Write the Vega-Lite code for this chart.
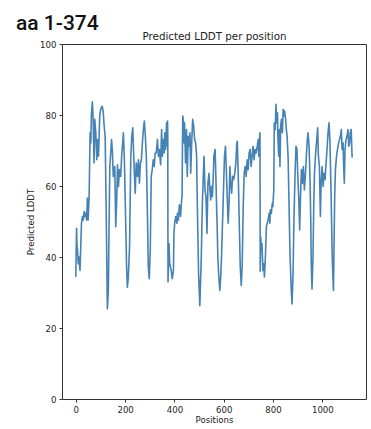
{
  "$schema": "https://vega.github.io/schema/vega-lite/v6.json",
  "width": 304,
  "height": 355,
  "autosize": {"type": "none"},
  "padding": {"left": 62, "top": 44, "right": 5, "bottom": 30},
  "background": "white",
  "title": {
    "text": "aa 1-374",
    "anchor": "start",
    "frame": "group",
    "dx": -46,
    "dy": 3,
    "offset": 0,
    "font": "Roboto",
    "fontSize": 21,
    "fontWeight": 500,
    "color": "#111111"
  },
  "config": {
    "view": {"stroke": "#333333", "strokeWidth": 1},
    "axis": {
      "domain": false,
      "grid": false,
      "labelFont": "DejaVu Sans",
      "labelFontSize": 8.6,
      "labelColor": "#222222",
      "titleFont": "DejaVu Sans",
      "titleFontSize": 8.6,
      "titleFontWeight": "normal",
      "titleColor": "#222222",
      "tickColor": "#333333",
      "tickSize": 3,
      "labelPadding": 3
    }
  },
  "data": {
    "values": [
      {"pos": 0, "lddt": 34.4}, {"pos": 3, "lddt": 48.1}, {"pos": 5, "lddt": 42.9}, {"pos": 7, "lddt": 41.9},
      {"pos": 10, "lddt": 38.1}, {"pos": 13, "lddt": 40}, {"pos": 17, "lddt": 36.2}, {"pos": 20, "lddt": 42.9},
      {"pos": 23, "lddt": 49.5}, {"pos": 27, "lddt": 51.4}, {"pos": 30, "lddt": 50.4}, {"pos": 34, "lddt": 52.8},
      {"pos": 37, "lddt": 51.4}, {"pos": 40, "lddt": 52.3}, {"pos": 44, "lddt": 50.4}, {"pos": 47, "lddt": 56.6},
      {"pos": 50, "lddt": 50.4}, {"pos": 54, "lddt": 57}, {"pos": 58, "lddt": 75}, {"pos": 61, "lddt": 72.1},
      {"pos": 63, "lddt": 79.7}, {"pos": 67, "lddt": 83.7}, {"pos": 70, "lddt": 79.7}, {"pos": 74, "lddt": 66.5},
      {"pos": 77, "lddt": 78.8}, {"pos": 81, "lddt": 75}, {"pos": 85, "lddt": 67.4}, {"pos": 88, "lddt": 73.1},
      {"pos": 92, "lddt": 68.4}, {"pos": 97, "lddt": 79.7}, {"pos": 101, "lddt": 81.6}, {"pos": 107, "lddt": 82.5},
      {"pos": 111, "lddt": 81.1}, {"pos": 115, "lddt": 76.9}, {"pos": 119, "lddt": 74}, {"pos": 123, "lddt": 54.2},
      {"pos": 128, "lddt": 25.4}, {"pos": 132, "lddt": 30.6}, {"pos": 135, "lddt": 49.5}, {"pos": 138, "lddt": 65.5},
      {"pos": 145, "lddt": 73.1}, {"pos": 148, "lddt": 70.3}, {"pos": 152, "lddt": 62.7}, {"pos": 158, "lddt": 65.5},
      {"pos": 162, "lddt": 48.5}, {"pos": 166, "lddt": 56.1}, {"pos": 169, "lddt": 66}, {"pos": 173, "lddt": 59.9},
      {"pos": 177, "lddt": 64.6}, {"pos": 182, "lddt": 62.7}, {"pos": 186, "lddt": 68.4}, {"pos": 190, "lddt": 72.1},
      {"pos": 193, "lddt": 75}, {"pos": 197, "lddt": 67.4}, {"pos": 201, "lddt": 54.2}, {"pos": 206, "lddt": 37.2},
      {"pos": 209, "lddt": 31.5}, {"pos": 213, "lddt": 34.4}, {"pos": 218, "lddt": 42.9}, {"pos": 223, "lddt": 68.4},
      {"pos": 227, "lddt": 74}, {"pos": 231, "lddt": 76.4}, {"pos": 234, "lddt": 70.3}, {"pos": 238, "lddt": 62.7},
      {"pos": 241, "lddt": 58}, {"pos": 245, "lddt": 66.5}, {"pos": 250, "lddt": 62.7}, {"pos": 254, "lddt": 67.4},
      {"pos": 258, "lddt": 60.8}, {"pos": 262, "lddt": 66.5}, {"pos": 266, "lddt": 67.4}, {"pos": 270, "lddt": 72.1},
      {"pos": 274, "lddt": 75.9}, {"pos": 278, "lddt": 78.3}, {"pos": 282, "lddt": 74}, {"pos": 286, "lddt": 68.4},
      {"pos": 290, "lddt": 54.2}, {"pos": 294, "lddt": 37.2}, {"pos": 298, "lddt": 33.9}, {"pos": 302, "lddt": 41.9},
      {"pos": 306, "lddt": 62.7}, {"pos": 310, "lddt": 64.6}, {"pos": 314, "lddt": 67.4}, {"pos": 318, "lddt": 65.5},
      {"pos": 322, "lddt": 69.3}, {"pos": 326, "lddt": 69.3}, {"pos": 331, "lddt": 73.1}, {"pos": 335, "lddt": 68.4},
      {"pos": 339, "lddt": 70.3}, {"pos": 344, "lddt": 66}, {"pos": 348, "lddt": 75.9}, {"pos": 351, "lddt": 68.4},
      {"pos": 355, "lddt": 73.1}, {"pos": 358, "lddt": 69.3}, {"pos": 361, "lddt": 75}, {"pos": 364, "lddt": 70.3},
      {"pos": 368, "lddt": 77.8}, {"pos": 371, "lddt": 71.2}, {"pos": 372, "lddt": 78.3}, {"pos": 373, "lddt": 75},
      {"pos": 374, "lddt": 33}, {"pos": 378, "lddt": 43.8}, {"pos": 381, "lddt": 38.1}, {"pos": 387, "lddt": 36.2},
      {"pos": 391, "lddt": 33.9}, {"pos": 396, "lddt": 36.2}, {"pos": 398, "lddt": 46.6}, {"pos": 401, "lddt": 49.5},
      {"pos": 405, "lddt": 51.4}, {"pos": 410, "lddt": 49.5}, {"pos": 412, "lddt": 52.3}, {"pos": 416, "lddt": 50.4},
      {"pos": 420, "lddt": 54.7}, {"pos": 423, "lddt": 53.3}, {"pos": 425, "lddt": 51.4}, {"pos": 429, "lddt": 56.1},
      {"pos": 431, "lddt": 57}, {"pos": 433, "lddt": 75}, {"pos": 434, "lddt": 79.7}, {"pos": 437, "lddt": 77.8},
      {"pos": 439, "lddt": 72.1}, {"pos": 441, "lddt": 77.8}, {"pos": 445, "lddt": 66.5}, {"pos": 449, "lddt": 75.9},
      {"pos": 452, "lddt": 62.7}, {"pos": 456, "lddt": 74}, {"pos": 460, "lddt": 71.2}, {"pos": 463, "lddt": 75},
      {"pos": 466, "lddt": 63.6}, {"pos": 470, "lddt": 72.1}, {"pos": 474, "lddt": 78.8}, {"pos": 478, "lddt": 76.9},
      {"pos": 482, "lddt": 73.1}, {"pos": 486, "lddt": 72.1}, {"pos": 490, "lddt": 68.4}, {"pos": 493, "lddt": 54.2},
      {"pos": 498, "lddt": 35.3}, {"pos": 503, "lddt": 26.3}, {"pos": 509, "lddt": 40}, {"pos": 513, "lddt": 54.2},
      {"pos": 517, "lddt": 62.7}, {"pos": 520, "lddt": 68.4}, {"pos": 524, "lddt": 58.9}, {"pos": 528, "lddt": 57},
      {"pos": 532, "lddt": 46.6}, {"pos": 536, "lddt": 60.8}, {"pos": 540, "lddt": 63.6}, {"pos": 544, "lddt": 58.9},
      {"pos": 547, "lddt": 56.1}, {"pos": 551, "lddt": 59.9}, {"pos": 554, "lddt": 57}, {"pos": 558, "lddt": 63.6},
      {"pos": 560, "lddt": 68.4}, {"pos": 565, "lddt": 70.3}, {"pos": 567, "lddt": 65.5}, {"pos": 571, "lddt": 54.2},
      {"pos": 574, "lddt": 46.6}, {"pos": 576, "lddt": 40}, {"pos": 580, "lddt": 34.4}, {"pos": 584, "lddt": 30.6},
      {"pos": 587, "lddt": 33.4}, {"pos": 591, "lddt": 40}, {"pos": 595, "lddt": 49.5}, {"pos": 599, "lddt": 58.9},
      {"pos": 603, "lddt": 68.4}, {"pos": 607, "lddt": 71.2}, {"pos": 611, "lddt": 63.6}, {"pos": 614, "lddt": 57},
      {"pos": 618, "lddt": 49.5}, {"pos": 622, "lddt": 56.1}, {"pos": 625, "lddt": 65.5}, {"pos": 628, "lddt": 60.8},
      {"pos": 632, "lddt": 58}, {"pos": 636, "lddt": 62.7}, {"pos": 640, "lddt": 61.8}, {"pos": 645, "lddt": 63.6},
      {"pos": 649, "lddt": 66.5}, {"pos": 653, "lddt": 72.1}, {"pos": 655, "lddt": 72.6}, {"pos": 659, "lddt": 62.7},
      {"pos": 663, "lddt": 49.5}, {"pos": 667, "lddt": 37.2}, {"pos": 671, "lddt": 32}, {"pos": 675, "lddt": 38.1},
      {"pos": 679, "lddt": 54.2}, {"pos": 683, "lddt": 63.6}, {"pos": 687, "lddt": 65.5}, {"pos": 691, "lddt": 62.7},
      {"pos": 695, "lddt": 67.4}, {"pos": 699, "lddt": 64.6}, {"pos": 703, "lddt": 69.3}, {"pos": 707, "lddt": 70.3},
      {"pos": 711, "lddt": 65.5}, {"pos": 715, "lddt": 68.4}, {"pos": 719, "lddt": 71.2}, {"pos": 723, "lddt": 67.4},
      {"pos": 727, "lddt": 70.3}, {"pos": 731, "lddt": 69.3}, {"pos": 736, "lddt": 71.2}, {"pos": 740, "lddt": 73.1},
      {"pos": 742, "lddt": 68.4}, {"pos": 745, "lddt": 73.1}, {"pos": 747, "lddt": 75},
      {"pos": 748, "lddt": 36}, {"pos": 750, "lddt": 45.7}, {"pos": 753, "lddt": 41.9}, {"pos": 755, "lddt": 43.8},
      {"pos": 759, "lddt": 36.2}, {"pos": 762, "lddt": 38.1}, {"pos": 765, "lddt": 34.4}, {"pos": 769, "lddt": 40},
      {"pos": 773, "lddt": 48.5}, {"pos": 776, "lddt": 49.5}, {"pos": 780, "lddt": 50.4}, {"pos": 784, "lddt": 52.3},
      {"pos": 787, "lddt": 49.5}, {"pos": 789, "lddt": 53.3}, {"pos": 793, "lddt": 52.3}, {"pos": 797, "lddt": 55.2},
      {"pos": 799, "lddt": 54.2}, {"pos": 803, "lddt": 58.9}, {"pos": 805, "lddt": 77.8}, {"pos": 809, "lddt": 75.9},
      {"pos": 812, "lddt": 83}, {"pos": 815, "lddt": 77.8}, {"pos": 818, "lddt": 80.6}, {"pos": 820, "lddt": 73.1},
      {"pos": 823, "lddt": 68.4}, {"pos": 826, "lddt": 75.9}, {"pos": 828, "lddt": 65.5}, {"pos": 831, "lddt": 76.9},
      {"pos": 834, "lddt": 78.8}, {"pos": 838, "lddt": 75}, {"pos": 841, "lddt": 81.6}, {"pos": 843, "lddt": 79.7},
      {"pos": 847, "lddt": 81.1}, {"pos": 851, "lddt": 78.8}, {"pos": 854, "lddt": 75.9}, {"pos": 857, "lddt": 74},
      {"pos": 861, "lddt": 68.4}, {"pos": 865, "lddt": 54.2}, {"pos": 869, "lddt": 40}, {"pos": 874, "lddt": 30.6},
      {"pos": 877, "lddt": 26.8}, {"pos": 881, "lddt": 35.3}, {"pos": 885, "lddt": 51.4}, {"pos": 889, "lddt": 62.7},
      {"pos": 893, "lddt": 71.2}, {"pos": 897, "lddt": 70.3}, {"pos": 900, "lddt": 63.6}, {"pos": 904, "lddt": 57},
      {"pos": 908, "lddt": 47.6}, {"pos": 911, "lddt": 56.1}, {"pos": 915, "lddt": 64.6}, {"pos": 919, "lddt": 60.8},
      {"pos": 923, "lddt": 65.5}, {"pos": 927, "lddt": 58.9}, {"pos": 931, "lddt": 62.7}, {"pos": 935, "lddt": 68.4},
      {"pos": 939, "lddt": 73.1}, {"pos": 942, "lddt": 75}, {"pos": 946, "lddt": 71.2}, {"pos": 950, "lddt": 61.8},
      {"pos": 953, "lddt": 50}, {"pos": 955, "lddt": 38}, {"pos": 958, "lddt": 31}, {"pos": 962, "lddt": 40},
      {"pos": 965, "lddt": 54}, {"pos": 968, "lddt": 63.6}, {"pos": 972, "lddt": 68.4}, {"pos": 976, "lddt": 72},
      {"pos": 981, "lddt": 76.4}, {"pos": 984, "lddt": 68.4}, {"pos": 988, "lddt": 65.5}, {"pos": 992, "lddt": 51.4},
      {"pos": 995, "lddt": 60.8}, {"pos": 999, "lddt": 65.5}, {"pos": 1003, "lddt": 59.9}, {"pos": 1007, "lddt": 63.6},
      {"pos": 1011, "lddt": 61.8}, {"pos": 1015, "lddt": 66.5}, {"pos": 1019, "lddt": 70.3}, {"pos": 1023, "lddt": 75},
      {"pos": 1027, "lddt": 77.8}, {"pos": 1031, "lddt": 72}, {"pos": 1035, "lddt": 59}, {"pos": 1040, "lddt": 40},
      {"pos": 1045, "lddt": 30.6}, {"pos": 1050, "lddt": 57}, {"pos": 1053, "lddt": 64.6}, {"pos": 1057, "lddt": 68},
      {"pos": 1059, "lddt": 69.3}, {"pos": 1066, "lddt": 72.2}, {"pos": 1070, "lddt": 73.1}, {"pos": 1073, "lddt": 74},
      {"pos": 1077, "lddt": 75.9}, {"pos": 1080, "lddt": 70.3}, {"pos": 1084, "lddt": 72.2}, {"pos": 1086, "lddt": 66.5},
      {"pos": 1089, "lddt": 60.8}, {"pos": 1092, "lddt": 70.3}, {"pos": 1096, "lddt": 73.1}, {"pos": 1100, "lddt": 74},
      {"pos": 1104, "lddt": 75.9}, {"pos": 1107, "lddt": 71.2}, {"pos": 1111, "lddt": 72.2}, {"pos": 1113, "lddt": 75},
      {"pos": 1117, "lddt": 75.9}, {"pos": 1120, "lddt": 69.3}, {"pos": 1121, "lddt": 68}
    ]
  },
  "layer": [
    {
      "mark": {"type": "line", "color": "#4682b4", "strokeWidth": 1.6, "strokeJoin": "round"},
      "encoding": {
        "x": {
          "field": "pos",
          "type": "quantitative",
          "scale": {"domain": [-56, 1177], "nice": false, "zero": false},
          "axis": {"title": "Positions", "values": [0, 200, 400, 600, 800, 1000], "format": "d", "titlePadding": 2}
        },
        "y": {
          "field": "lddt",
          "type": "quantitative",
          "scale": {"domain": [0, 100], "nice": false},
          "axis": {"title": "Predicted LDDT", "values": [0, 20, 40, 60, 80, 100], "titlePadding": 4}
        }
      }
    },
    {
      "mark": {"type": "line", "opacity": 0},
      "encoding": {
        "x": {
          "field": "pos",
          "type": "quantitative",
          "axis": {
            "orient": "top",
            "title": "Predicted LDDT per position",
            "titleFontSize": 10.3,
            "titlePadding": 3,
            "labels": false,
            "ticks": false,
            "domain": false
          }
        },
        "y": {"field": "lddt", "type": "quantitative"}
      }
    }
  ],
  "resolve": {"axis": {"x": "independent"}}
}
